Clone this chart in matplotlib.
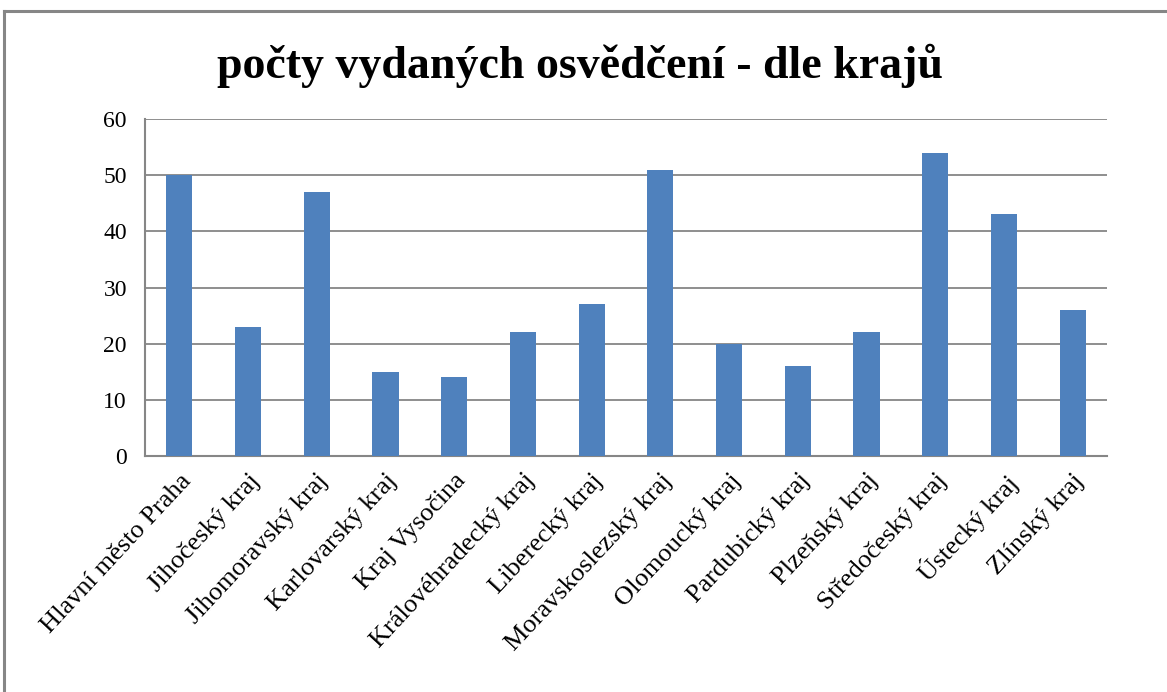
import matplotlib
matplotlib.use("Agg")
import matplotlib.pyplot as plt
from matplotlib.lines import Line2D

categories = ["Hlavní město Praha", "Jihočeský kraj", "Jihomoravský kraj",
              "Karlovarský kraj", "Kraj Vysočina", "Královéhradecký kraj",
              "Liberecký kraj", "Moravskoslezský kraj", "Olomoucký kraj",
              "Pardubický kraj", "Plzeňský kraj", "Středočeský kraj",
              "Ústecký kraj", "Zlínský kraj"]
values = [50, 23, 47, 15, 14, 22, 27, 51, 20, 16, 22, 54, 43, 26]
yticks = [0, 10, 20, 30, 40, 50, 60]
title = "počty vydaných osvědčení - dle krajů"

plt.rcParams['font.family'] = ['Liberation Serif', 'DejaVu Serif']

W, H = 1167, 692
fig = plt.figure(figsize=(W / 100, H / 100), dpi=100)
ax = fig.add_axes([145 / W, 1 - 456 / H, (1107 - 145) / W, (456 - 119) / H])

x = range(len(categories))
ax.bar(x, values, width=0.38, color="#4F81BD", zorder=3)

ax.set_ylim(0, 60)
ax.set_xlim(-0.5, len(categories) - 0.5)
ax.set_yticks(yticks)
ax.set_yticklabels([str(v) for v in yticks], fontsize=17)
ax.yaxis.grid(True, color="#868686", linewidth=1.3, zorder=0)
ax.tick_params(axis="y", length=0, pad=13)
ax.set_xticks(list(x))
ax.set_xticklabels(categories, rotation=47, ha="right", va="top",
                   rotation_mode="anchor", fontsize=19)
ax.tick_params(axis="x", length=0, pad=10)

for s in ["top", "right"]:
    ax.spines[s].set_visible(False)
for s in ["left", "bottom"]:
    ax.spines[s].set_color("#868686")
    ax.spines[s].set_linewidth(1.5)

fig.text(580 / W, 1 - 66 / H, title, ha="center", va="center",
         fontsize=33, fontweight="bold")

# chart border (top and left visible)
fig.add_artist(Line2D([4 / W, 1.0], [1 - 11 / H, 1 - 11 / H],
                      transform=fig.transFigure, color="#868686", linewidth=2.2))
fig.add_artist(Line2D([4 / W, 4 / W], [0.0, 1 - 11 / H],
                      transform=fig.transFigure, color="#868686", linewidth=2.2))

fig.savefig("out.png", dpi=100)
